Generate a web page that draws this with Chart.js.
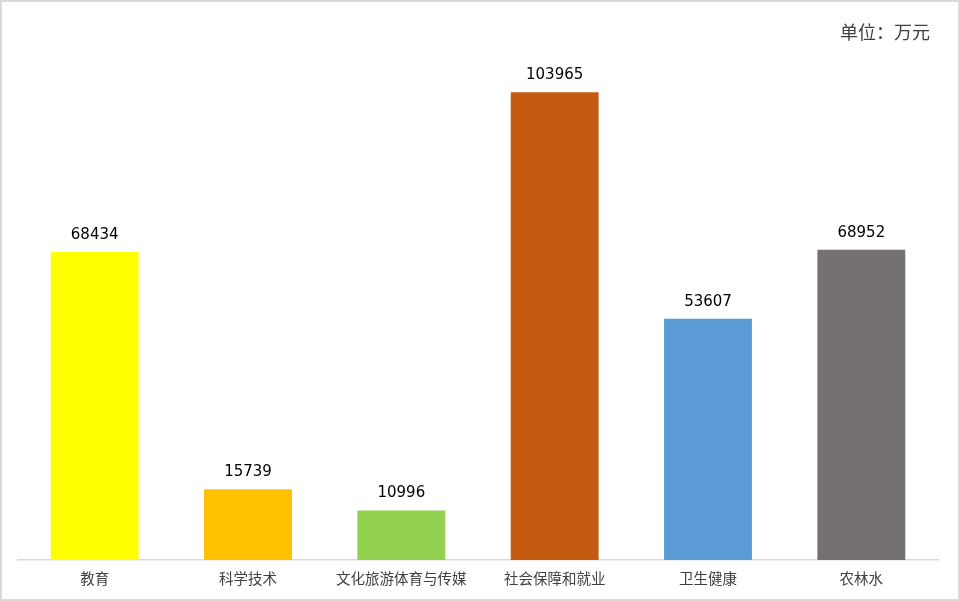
<!DOCTYPE html>
<html>
<head>
<meta charset="utf-8">
<script src="https://cdn.jsdelivr.net/npm/chart.js@4.4.0/dist/chart.umd.min.js"></script>
<style>
  html, body { margin: 0; padding: 0; background: #fff; }
  #wrap { width: 960px; height: 601px; box-sizing: border-box; border: 2px solid #d9d9d9; }
  #c { display: block; }
</style>
</head>
<body>
<div id="wrap"><canvas id="c" width="956" height="597"></canvas></div>
<script>
const categories = ['教育', '科学技术', '文化旅游体育与传媒', '社会保障和就业', '卫生健康', '农林水'];
const values = [68434, 15739, 10996, 103965, 53607, 68952];
const barColors = ['#FFFF00', '#FFC000', '#92D050', '#C55A11', '#5B9BD5', '#767171'];
const unitText = '单位：万元';

// values above each bar + unit note in the corner
const labelsPlugin = {
  id: 'labels',
  afterDatasetsDraw(chart) {
    const ctx = chart.ctx;
    const meta = chart.getDatasetMeta(0);
    ctx.save();
    ctx.font = '15px "DejaVu Sans"';
    ctx.fillStyle = '#000';
    ctx.textAlign = 'center';
    ctx.textBaseline = 'middle';
    meta.data.forEach((bar, i) => {
      ctx.fillText(String(values[i]), bar.x, bar.y - 17);
    });
    ctx.font = '18px "Noto Sans CJK SC"';
    ctx.fillStyle = '#404040';
    ctx.textAlign = 'right';
    ctx.fillText(unitText, 928, 30);
    ctx.restore();
  }
};

new Chart(document.getElementById('c').getContext('2d'), {
  type: 'bar',
  data: {
    labels: categories,
    datasets: [{
      data: values,
      backgroundColor: barColors,
      borderWidth: 0,
      barPercentage: 0.573,
      categoryPercentage: 1
    }]
  },
  options: {
    responsive: false,
    animation: false,
    layout: { padding: { top: 63, left: 16, right: 20, bottom: 0 } },
    plugins: { legend: { display: false }, tooltip: { enabled: false } },
    scales: {
      x: {
        grid: { display: false, drawTicks: false },
        border: { display: true, color: '#d9d9d9', width: 1.5 },
        ticks: {
          padding: 10,
          color: '#404040',
          font: { family: '"Noto Sans CJK SC"', size: 14.5 },
          maxRotation: 0,
          autoSkip: false
        },
        afterFit(scale) { scale.height = 39; }
      },
      y: {
        display: false,
        min: 0,
        max: 110000
      }
    }
  },
  plugins: [labelsPlugin]
});
</script>
</body>
</html>
